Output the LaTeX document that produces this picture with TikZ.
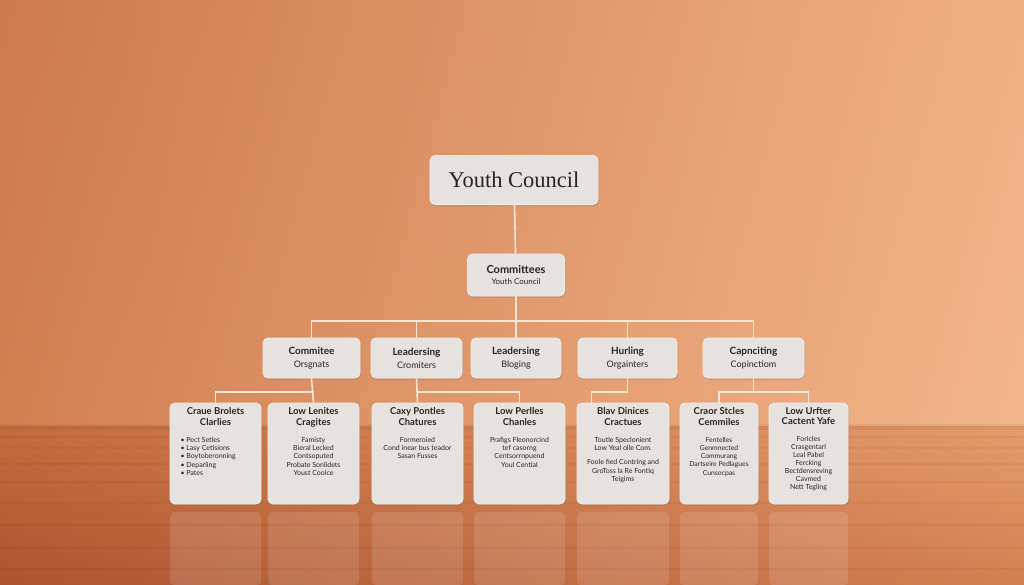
\documentclass[tikz,border=0pt]{standalone}
\usepackage{fontspec}
\setmainfont{Lato}
\newfontfamily\titleserif{Liberation Serif}
\usetikzlibrary{shadows,shadings}

\definecolor{wallUL}{RGB}{204,122,78}
\definecolor{wallUR}{RGB}{240,176,132}
\definecolor{wallLL}{RGB}{210,128,82}
\definecolor{wallLR}{RGB}{242,182,138}
\definecolor{tabUL}{RGB}{196,108,62}
\definecolor{tabUR}{RGB}{230,156,108}
\definecolor{tabLL}{RGB}{172,84,48}
\definecolor{tabLR}{RGB}{210,128,82}
\definecolor{cardfill}{RGB}{229,226,223}
\definecolor{cardline}{RGB}{242,238,234}
\definecolor{linkcol}{RGB}{246,230,214}
\definecolor{inkcol}{RGB}{40,36,34}

\newcommand\cardhead[2]{{\bfseries\fontsize{10}{11}\selectfont #1}\\[1pt]{\fontsize{9}{10}\selectfont #2}}
\newcommand\bodyhead[2]{{\bfseries\fontsize{9.5}{10.5}\selectfont #1\\#2\par}\vspace{9pt}}

\begin{document}
\begin{tikzpicture}[x=1pt,y=-1pt,
  card/.style={draw=cardline, fill=cardfill, rounded corners=5pt, line width=0.8pt,
    inner sep=0pt, text=inkcol,
    drop shadow={opacity=0.28, shadow xshift=1pt, shadow yshift=-2pt}},
  midcard/.style={card, minimum height=40pt, align=center},
  lowcard/.style={card, minimum height=101pt},
  link/.style={draw=linkcol, line width=1.6pt},
  refl/.style={fill=white, opacity=0.12, rounded corners=4pt}
]
  % wall and table
  \shade[upper left=wallUL, upper right=wallUR, lower left=wallLL, lower right=wallLR]
    (0,0) rectangle (1024,426);
  \shade[upper left=tabUL, upper right=tabUR, lower left=tabLL, lower right=tabLR]
    (0,426) rectangle (1024,585);
  \fill[black, opacity=0.05] (0,424) rectangle (1024,430);
  \foreach \yy/\op in {436/0.04, 447/0.03, 463/0.04, 481/0.03, 502/0.03, 524/0.04, 547/0.03, 568/0.04}
    \fill[black, opacity=\op] (0,\yy) rectangle (1024,\yy+2);
  \useasboundingbox (0,0) rectangle (1024,585);

  % reflections
  \fill[refl] (170,512) rectangle (261,585);
  \fill[refl] (268,512) rectangle (359,585);
  \fill[refl] (372,512) rectangle (463,585);
  \fill[refl] (474,512) rectangle (565,585);
  \fill[refl] (577,512) rectangle (669,585);
  \fill[refl] (680,512) rectangle (758,585);
  \fill[refl] (769,512) rectangle (848,585);

  % top levels
  \node[card, minimum width=168pt, minimum height=49pt,
    font=\titleserif\fontsize{22.5}{24}\selectfont] (yc) at (514,180) {Youth Council};
  \node[card, minimum width=97pt, minimum height=42pt, align=center] (cm) at (516,275)
    {{\bfseries\fontsize{11}{12}\selectfont Committees}\\[-1pt]{\fontsize{8}{9}\selectfont Youth Council}};

  % middle row
  \node[midcard, minimum width=97pt] (m1) at (311.5,358) {\cardhead{Commitee}{Orsgnats}};
  \node[midcard, minimum width=91pt] (m2) at (416.5,358) {\cardhead{Leadersing}{Cromiters}};
  \node[midcard, minimum width=90pt] (m3) at (516,358) {\cardhead{Leadersing}{Bloging}};
  \node[midcard, minimum width=99pt] (m4) at (627.5,358) {\cardhead{Hurling}{Orgainters}};
  \node[midcard, minimum width=101pt] (m5) at (753.5,358) {\cardhead{Capnciting}{Copinctiom}};

  % bottom row
  \node[lowcard, minimum width=91pt] (b1) at (215.5,453.5) {\parbox[c][92pt][t]{86pt}{\centering
    \bodyhead{Craue Brolets}{Clarlies}
    {\fontsize{7}{8.3}\selectfont\raggedright\leftskip=8pt
    \textbullet\ Pect Setles\\ \textbullet\ Lasy Cetisions\\ \textbullet\ Boytoberonning\\
    \textbullet\ Deparling\\ \textbullet\ Pates\par}}};
  \node[lowcard, minimum width=91pt] (b2) at (313.5,453.5) {\parbox[c][92pt][t]{86pt}{\centering
    \bodyhead{Low Lenites}{Cragites}
    {\fontsize{7}{8.3}\selectfont Famisty\\ Bieral Lecked\\ Contsoputed\\ Probate Sonlidets\\ Youst Coolce\par}}};
  \node[lowcard, minimum width=91pt] (b3) at (417.5,453.5) {\parbox[c][92pt][t]{88pt}{\centering
    \bodyhead{Caxy Pontles}{Chatures}
    {\fontsize{7}{8.3}\selectfont Formeroied\\ Cond inear bus teador\\ Sasan Fusses\par}}};
  \node[lowcard, minimum width=91pt] (b4) at (519.5,453.5) {\parbox[c][92pt][t]{88pt}{\centering
    \bodyhead{Low Perlles}{Chanles}
    {\fontsize{7}{8.3}\selectfont Prafigs Fleonorcind\\ tef casorng\\ Centsorrnpuend\\ Youl Cential\par}}};
  \node[lowcard, minimum width=92pt] (b5) at (623,453.5) {\parbox[c][92pt][t]{90pt}{\centering
    \bodyhead{Blav Dinices}{Cractues}
    {\fontsize{7}{8.3}\selectfont Toutle Speclonient\\ Low Yeal olle Com.\\[6pt]
    Foole fied Contring and\\ GroToss la Re Fontiq\\ Teigims\par}}};
  \node[lowcard, minimum width=78pt] (b6) at (719,453.5) {\parbox[c][92pt][t]{78pt}{\centering
    \bodyhead{Craor Stcles}{Cemmiles}
    {\fontsize{6.8}{8.2}\selectfont Fentelles\\ Genmnected\\ Commurang\\ Dartseire Pedlagues\\ Cunsocpas\par}}};
  \node[lowcard, minimum width=79pt] (b7) at (808.5,453.5) {\parbox[c][92pt][t]{78pt}{\centering
    \bodyhead{Low Urfter}{Cactent Yafe}
    {\fontsize{7}{8}\selectfont Foricles\\ Crasgentarl\\ Leal Pabel\\ Fercking\\ Bectdensreving\\ Cavmed\\ Nett Tegling\par}}};

  % connectors
  \coordinate (busa) at (516,321);
  \coordinate (busb) at (0,392);
  \path[link] (yc) -- (cm);
  \path[link] (cm) -- (m3);
  \path[link] (m1.north) |- (busa) -| (m5.north);
  \path[link] (m2.north) -- (m2.north |- busa);
  \path[link] (m4.north) -- (m4.north |- busa);
  \path[link] (m1.south) -- (b2.north);
  \path[link] (b1.north) |- (b2.north |- busb);
  \path[link] (m2.south) -- (b3.north);
  \path[link] (b3.north |- busb) -| (b4.north);
  \path[link] (m4.south) |- ([xshift=15pt]b5.north west |- busb) -- ([xshift=15pt]b5.north west);
  \path[link] (m5.south) -- (m5.south |- busb);
  \path[link] (b6.north) |- (busb -| m5.south) -| (b7.north);
\end{tikzpicture}
\end{document}
